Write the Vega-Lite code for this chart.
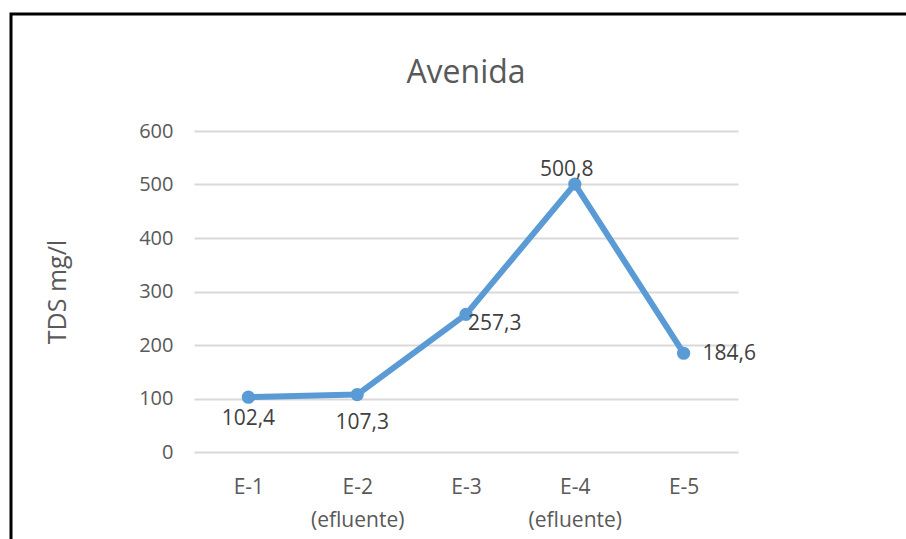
{
  "$schema": "https://vega.github.io/schema/vega-lite/v6.json",
  "autosize": "none",
  "width": 544,
  "height": 321,
  "padding": {"left": 194, "top": 131, "right": 168, "bottom": 87},
  "background": "white",
  "title": {
    "text": "Avenida",
    "font": "Open Sans",
    "fontSize": 32,
    "fontWeight": "normal",
    "color": "#595959",
    "anchor": "middle",
    "offset": -77
  },
  "data": {
    "values": [
      {"punto": "E-1", "tds": 102.4, "etiqueta": "102,4"},
      {"punto": "E-2 (efluente)", "tds": 107.3, "etiqueta": "107,3"},
      {"punto": "E-3", "tds": 257.3, "etiqueta": "257,3"},
      {"punto": "E-4 (efluente)", "tds": 500.8, "etiqueta": "500,8"},
      {"punto": "E-5", "tds": 184.6, "etiqueta": "184,6"}
    ]
  },
  "encoding": {
    "x": {
      "field": "punto",
      "type": "nominal",
      "sort": null,
      "scale": {"type": "point", "padding": 0.5},
      "axis": {
        "title": null,
        "labelExpr": "split(datum.value, ' ')",
        "labelAngle": 0,
        "labelFont": "Open Sans",
        "labelFontSize": 21,
        "labelColor": "#595959",
        "labelLineHeight": 33,
        "labelPadding": 24,
        "domain": false,
        "ticks": false,
        "grid": false
      }
    },
    "y": {
      "field": "tds",
      "type": "quantitative",
      "scale": {"domain": [0, 600]},
      "axis": {
        "title": "TDS mg/l",
        "titleFont": "Open Sans",
        "titleFontSize": 25,
        "titleFontWeight": "normal",
        "titleColor": "#595959",
        "titlePadding": 68,
        "values": [0, 100, 200, 300, 400, 500, 600],
        "labelFont": "Open Sans",
        "labelFontSize": 20,
        "labelColor": "#595959",
        "labelPadding": 21,
        "domain": false,
        "ticks": false,
        "gridColor": "#d9d9d9",
        "gridWidth": 2
      }
    }
  },
  "layer": [
    {
      "mark": {"type": "rect", "fill": null, "stroke": "black", "strokeWidth": 3, "clip": false},
      "encoding": {
        "x": {"value": -183},
        "x2": {"value": 800},
        "y": {"value": -117},
        "y2": {"value": 500}
      },
      "data": {"values": [{}]}
    },
    {
      "mark": {"type": "line", "color": "#5b9bd5", "strokeWidth": 6, "strokeCap": "round", "strokeJoin": "round"}
    },
    {
      "mark": {"type": "point", "filled": true, "color": "#5b9bd5", "size": 175, "opacity": 1}
    },
    {
      "transform": [{"filter": "datum.punto == 'E-1'"}],
      "mark": {"type": "text", "font": "Open Sans", "fontSize": 21, "color": "#404040", "baseline": "middle", "dy": 22, "dx": 0},
      "encoding": {"text": {"field": "etiqueta"}}
    },
    {
      "transform": [{"filter": "datum.punto == 'E-2 (efluente)'"}],
      "mark": {"type": "text", "font": "Open Sans", "fontSize": 21, "color": "#404040", "baseline": "middle", "dy": 28, "dx": 5},
      "encoding": {"text": {"field": "etiqueta"}}
    },
    {
      "transform": [{"filter": "datum.punto == 'E-3'"}],
      "mark": {"type": "text", "font": "Open Sans", "fontSize": 21, "color": "#404040", "baseline": "middle", "align": "left", "dx": 2, "dy": 10},
      "encoding": {"text": {"field": "etiqueta"}}
    },
    {
      "transform": [{"filter": "datum.punto == 'E-4 (efluente)'"}],
      "mark": {"type": "text", "font": "Open Sans", "fontSize": 21, "color": "#404040", "baseline": "middle", "dx": -8, "dy": -14},
      "encoding": {"text": {"field": "etiqueta"}}
    },
    {
      "transform": [{"filter": "datum.punto == 'E-5'"}],
      "mark": {"type": "text", "font": "Open Sans", "fontSize": 21, "color": "#404040", "baseline": "middle", "align": "left", "dx": 19, "dy": 1},
      "encoding": {"text": {"field": "etiqueta"}}
    }
  ],
  "config": {
    "view": {"stroke": null}
  }
}
